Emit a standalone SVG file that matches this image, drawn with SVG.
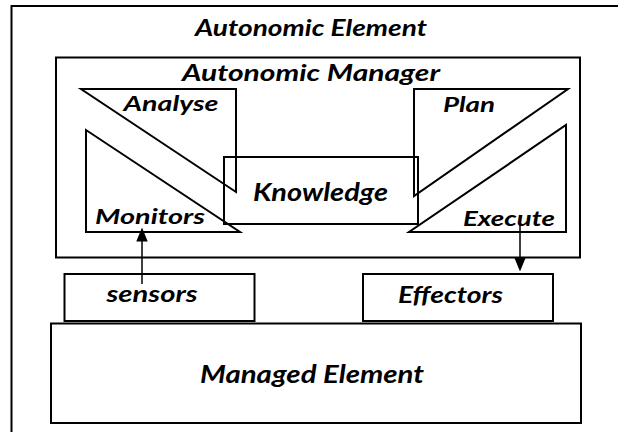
<svg xmlns="http://www.w3.org/2000/svg" width="618" height="432" viewBox="0 0 618 432">
<defs>
<style>
.box{fill:none;stroke:#000;stroke-width:2}
.t{font-family:Lato,"Open Sans",sans-serif;font-weight:bold;font-style:italic;font-size:22px;fill:#000;text-anchor:middle}
.s{font-size:21px}
.l{font-size:24px}
.c{stroke:#000;stroke-width:1.5;fill:none}
</style>
<marker id="ah" markerWidth="14" markerHeight="17" refX="14" refY="7" orient="auto" markerUnits="userSpaceOnUse" viewBox="0 0 17 14">
<path d="M0,0 L17,7 L0,14 Z" fill="#000"/>
</marker>
</defs>
<rect width="618" height="432" fill="#fff"/>
<g id="autonomic-element">
<rect class="box" x="11.5" y="6" width="620" height="440"/>
<text class="t" x="311" y="36" textLength="232" lengthAdjust="spacingAndGlyphs">Autonomic Element</text>
</g>
<g id="autonomic-manager">
<rect class="box" x="56" y="57.5" width="524" height="200"/>
<text class="t" x="311" y="81" textLength="258" lengthAdjust="spacingAndGlyphs">Autonomic Manager</text>
</g>
<g id="analyse">
<polygon class="box" points="81,89 236,89 236,192"/>
<text class="t s" x="171" y="111" textLength="95" lengthAdjust="spacingAndGlyphs">Analyse</text>
</g>
<g id="monitors">
<polygon class="box" points="86,130 86,232 240,232"/>
<text class="t s" x="150" y="224" textLength="110" lengthAdjust="spacingAndGlyphs">Monitors</text>
</g>
<g id="knowledge">
<rect class="box" x="224" y="157" width="194" height="67"/>
<text class="t l" x="320.5" y="200.5" textLength="135" lengthAdjust="spacingAndGlyphs">Knowledge</text>
</g>
<g id="plan">
<polygon class="box" points="414,89 568,89 414,196"/>
<text class="t s" x="469" y="112" textLength="52" lengthAdjust="spacingAndGlyphs">Plan</text>
</g>
<g id="execute">
<polygon class="box" points="566,125 566,232 409,232"/>
<text class="t s" x="509" y="226" textLength="92" lengthAdjust="spacingAndGlyphs">Execute</text>
</g>
<g id="sensors">
<rect class="box" x="64.5" y="274" width="190" height="47"/>
<text class="t" x="152" y="302" textLength="91" lengthAdjust="spacingAndGlyphs">sensors</text>
</g>
<g id="effectors">
<rect class="box" x="363" y="274" width="190" height="47"/>
<text class="t" x="450.5" y="302.5" textLength="105" lengthAdjust="spacingAndGlyphs">Effectors</text>
</g>
<g id="managed-element">
<rect class="box" x="51" y="323.5" width="530" height="99.5"/>
<text class="t l" x="312" y="383" textLength="224" lengthAdjust="spacingAndGlyphs">Managed Element</text>
</g>
<g id="connectors">
<line class="c" x1="142" y1="284" x2="142" y2="230" marker-end="url(#ah)"/>
<line class="c" x1="520" y1="217" x2="520" y2="269" marker-end="url(#ah)"/>
</g>
</svg>
